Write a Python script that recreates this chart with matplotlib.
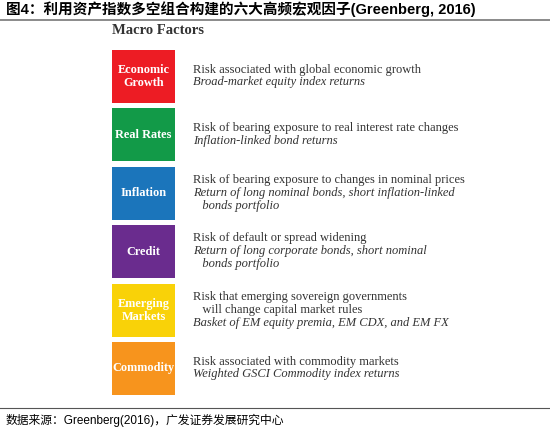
import matplotlib
matplotlib.use("Agg")
import matplotlib.pyplot as plt
from matplotlib.patches import Rectangle

plt.rcParams['font.family'] = ['Noto Sans CJK SC', 'DejaVu Sans']

factors = ["Economic\nGrowth", "Real Rates", "Inflation", "Credit", "Emerging\nMarkets", "Commodity"]
colors = ["#ED1C24", "#129A48", "#1B75BB", "#6A2C8E", "#F9D208", "#F7941D"]
risks = ["Risk associated with global economic growth",
         "Risk of bearing exposure to real interest rate changes",
         "Risk of bearing exposure to changes in nominal prices",
         "Risk of default or spread widening",
         "Risk that emerging sovereign governments\n   will change capital market rules",
         "Risk associated with commodity markets"]
proxies = ["Broad-market equity index returns",
           "Inflation-linked bond returns",
           "Return of long nominal bonds, short inflation-linked\n   bonds portfolio",
           "Return of long corporate bonds, short nominal\n   bonds portfolio",
           "Basket of EM equity premia, EM CDX, and EM FX",
           "Weighted GSCI Commodity index returns"]

fig = plt.figure(figsize=(5.5, 4.3), dpi=100)
ax = fig.add_axes([0, 0, 1, 1])
ax.set_xlim(0, 550); ax.set_ylim(430, 0); ax.axis('off')

mixed = ['Liberation Sans', 'Noto Sans CJK SC']
ax.text(6, 9, "图4：利用资产指数多空组合构建的六大高频宏观因子(Greenberg, 2016)",
        fontsize=10.5, fontweight='bold', va='center', ha='left', family=mixed)
ax.plot([0, 550], [19.5, 19.5], color='#777777', lw=1.2)
ax.plot([0, 550], [408, 408], color='#555555', lw=0.8)
ax.text(6, 420, "数据来源：Greenberg(2016)，广发证券发展研究中心", fontsize=8.5,
        va='center', ha='left', family=mixed)

serif = 'Liberation Serif'
ax.text(112, 31, "Macro Factors", fontsize=10.5, fontweight='bold', family=serif,
        va='center', ha='left', color='#333333')

top0, step, h = 50, 58.4, 53
for i, (f, c, r, p) in enumerate(zip(factors, colors, risks, proxies)):
    y0 = top0 + i * step
    ax.add_patch(Rectangle((112, y0), 63, h, facecolor=c, edgecolor='none'))
    ax.text(143.5, y0 + h / 2, f, family=serif, fontweight='bold', fontsize=8.8,
            color='white', ha='center', va='center', linespacing=1.1)
    nr = r.count("\n") + 1
    npx = p.count("\n") + 1
    lh = 13
    total = (nr + npx) * lh
    ys = y0 + h / 2 - total / 2
    ax.text(193, ys, r, family=serif, fontsize=9, color='#333333',
            ha='left', va='top', linespacing=1.1)
    ax.text(193, ys + nr * lh, p, family=serif, fontsize=9, style='italic',
            color='#333333', ha='left', va='top', linespacing=1.1)

fig.savefig("out.png", dpi=100)
